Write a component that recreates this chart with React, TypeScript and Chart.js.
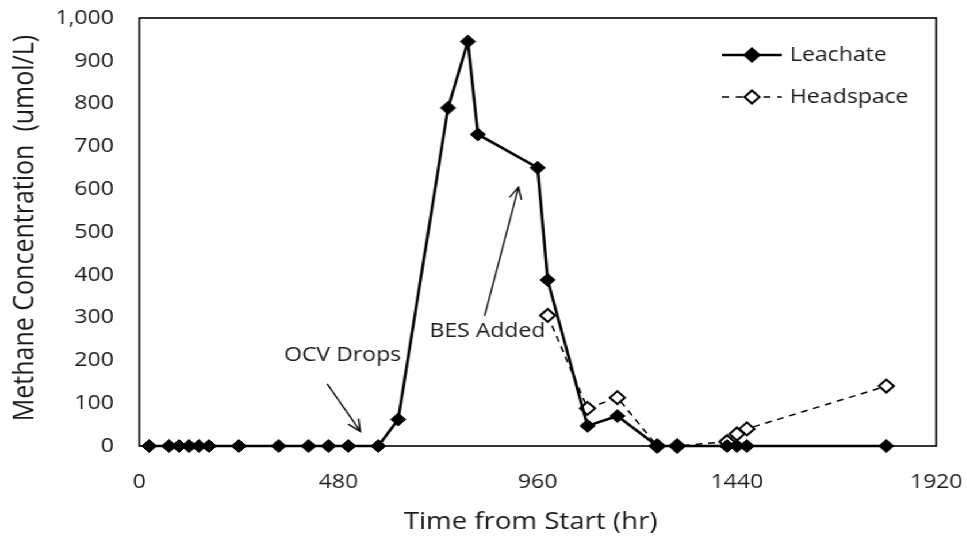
import { useEffect, useRef } from "react";
import { Chart, registerables } from "chart.js";

Chart.register(...registerables);

// ---- data (hours from start, methane umol/L) ----
const leachateHours = [24, 72, 96, 120, 144, 168, 240, 336, 408, 456, 504, 576, 624, 744, 792, 816, 960, 984, 1080, 1152, 1248, 1296, 1416, 1440, 1464, 1800];
const leachateValues = [0, 0, 0, 0, 0, 0, 0, 0, 0, 0, 0, 0, 62, 790, 945, 728, 650, 388, 47, 70, 0, 0, 0, 0, 0, 0];
const headspaceHours = [984, 1080, 1152, 1248, 1296, 1416, 1440, 1464, 1800];
const headspaceValues = [305, 88, 113, 0, 0, 10, 28, 40, 140];

const xMin = 0;
const xMax = 1920;
const xStep = 480;
const yMin = 0;
const yMax = 1000;
const yStep = 100;

const seriesNames = ["Leachate", "Headspace"];
const xTitle = "Time from Start (hr)";
const yTitle = "Methane Concentration  (umol/L)";

// annotations in data coordinates
const annotationTexts = ["OCV Drops", "BES Added"];
const annotationTextAt = [[490, 211], [839, 269]];
const annotationArrowFrom = [[453, 145], [832, 304]];
const annotationArrowTo = [[533, 34], [914, 605]];

// ---- layout ----
const S = 1.15; // horizontal stretch of the reference picture
const W = 967 / S;
const H = 537;
const FONT = "'Open Sans', 'DejaVu Sans', sans-serif";
const TEXT = "#1a1a1a";

function drawDiamond(ctx: CanvasRenderingContext2D, x: number, y: number, r: number, filled: boolean) {
  ctx.beginPath();
  ctx.moveTo(x, y - r);
  ctx.lineTo(x + r, y);
  ctx.lineTo(x, y + r);
  ctx.lineTo(x - r, y);
  ctx.closePath();
  ctx.fillStyle = filled ? "#000" : "#fff";
  ctx.fill();
  ctx.lineWidth = 2;
  ctx.strokeStyle = "#000";
  ctx.stroke();
}

const zeroPad = (s: any) => {
  s.paddingLeft = 0;
  s.paddingRight = 0;
  s.paddingTop = 0;
  s.paddingBottom = 0;
};

const decorPlugin = {
  id: "decor",
  beforeDatasetsDraw(chart: any) {
    const { ctx, chartArea: ca } = chart;
    ctx.save();
    ctx.strokeStyle = "#000";
    ctx.lineWidth = 1.6;
    ctx.strokeRect(ca.left, ca.top, ca.right - ca.left, ca.bottom - ca.top);
    ctx.restore();
  },
  afterDraw(chart: any) {
    const { ctx, chartArea: ca } = chart;
    const xs = chart.scales.x;
    const ys = chart.scales.y;
    ctx.save();

    // axis titles
    ctx.fillStyle = TEXT;
    ctx.textAlign = "center";
    ctx.textBaseline = "middle";
    ctx.font = `24px ${FONT}`;
    ctx.fillText(xTitle, 530 / S, 522);
    ctx.save();
    ctx.translate(25 / S, 228);
    ctx.rotate(-Math.PI / 2);
    ctx.font = `25px ${FONT}`;
    ctx.fillText(yTitle, 0, 0);
    ctx.restore();

    // legend
    const lx0 = ca.right - 186;
    const lx1 = ca.right - 134;
    const lxm = (lx0 + lx1) / 2;
    const ltx = ca.right - 127;
    const rows = [55, 97];
    ctx.font = `20px ${FONT}`;
    ctx.textAlign = "left";
    // Leachate
    ctx.strokeStyle = "#000";
    ctx.lineWidth = 2.5;
    ctx.beginPath();
    ctx.moveTo(lx0, rows[0]);
    ctx.lineTo(lx1, rows[0]);
    ctx.stroke();
    drawDiamond(ctx, lxm, rows[0], 6.5, true);
    ctx.fillStyle = TEXT;
    ctx.fillText(seriesNames[0], ltx, rows[0]);
    // Headspace
    ctx.lineWidth = 1.5;
    ctx.setLineDash([6, 6]);
    ctx.beginPath();
    ctx.moveTo(lx0, rows[1]);
    ctx.lineTo(lx1, rows[1]);
    ctx.stroke();
    ctx.setLineDash([]);
    drawDiamond(ctx, lxm, rows[1], 6.5, false);
    ctx.fillStyle = TEXT;
    ctx.fillText(seriesNames[1], ltx, rows[1]);

    // annotations
    ctx.textAlign = "center";
    for (let i = 0; i < annotationTexts.length; i++) {
      const tx = xs.getPixelForValue(annotationTextAt[i][0]);
      const ty = ys.getPixelForValue(annotationTextAt[i][1]);
      ctx.fillStyle = TEXT;
      ctx.fillText(annotationTexts[i], tx, ty);
      const ax0 = xs.getPixelForValue(annotationArrowFrom[i][0]);
      const ay0 = ys.getPixelForValue(annotationArrowFrom[i][1]);
      const ax1 = xs.getPixelForValue(annotationArrowTo[i][0]);
      const ay1 = ys.getPixelForValue(annotationArrowTo[i][1]);
      ctx.strokeStyle = "#111";
      ctx.lineWidth = 1.4;
      ctx.beginPath();
      ctx.moveTo(ax0, ay0);
      ctx.lineTo(ax1, ay1);
      const ang = Math.atan2(ay1 - ay0, ax1 - ax0);
      const hl = 13;
      const ha = 0.42;
      ctx.moveTo(ax1 - hl * Math.cos(ang - ha), ay1 - hl * Math.sin(ang - ha));
      ctx.lineTo(ax1, ay1);
      ctx.lineTo(ax1 - hl * Math.cos(ang + ha), ay1 - hl * Math.sin(ang + ha));
      ctx.stroke();
    }
    ctx.restore();
  },
};

export default function App() {
  const canvasRef = useRef<HTMLCanvasElement | null>(null);

  useEffect(() => {
    if (!canvasRef.current) return;
    const leachate = leachateHours.map((h, i) => ({ x: h, y: leachateValues[i] }));
    const headspace = headspaceHours.map((h, i) => ({ x: h, y: headspaceValues[i] }));
    const chart = new Chart(canvasRef.current, {
      type: "line",
      data: {
        datasets: [
          {
            label: seriesNames[0],
            data: leachate,
            borderColor: "#000",
            backgroundColor: "#000",
            borderWidth: 2.5,
            pointStyle: "rectRot",
            pointRadius: 6.5,
            pointBorderWidth: 1,
            pointBackgroundColor: "#000",
            pointBorderColor: "#000",
            tension: 0,
            clip: false,
          } as any,
          {
            label: seriesNames[1],
            data: headspace,
            borderColor: "#000",
            backgroundColor: "#fff",
            borderWidth: 1.5,
            borderDash: [6, 5],
            pointStyle: "rectRot",
            pointRadius: 6.5,
            pointBorderWidth: 2,
            pointBackgroundColor: "#fff",
            pointBorderColor: "#000",
            tension: 0,
            clip: false,
          } as any,
        ],
      },
      options: {
        animation: false,
        responsive: true,
        maintainAspectRatio: false,
        layout: { padding: { top: 18, right: W - 935 / S, left: 0, bottom: 0 } },
        plugins: { legend: { display: false }, tooltip: { enabled: false } },
        scales: {
          x: {
            type: "linear",
            min: xMin,
            max: xMax,
            grid: { display: false, drawTicks: false },
            border: { display: false },
            afterFit: (s: any) => { s.height = H - 446; zeroPad(s); },
            ticks: {
              stepSize: xStep,
              padding: 24,
              color: TEXT,
              font: { family: FONT, size: 20 },
              maxRotation: 0,
              callback: (v: any) => String(v),
            },
          },
          y: {
            type: "linear",
            min: yMin,
            max: yMax,
            grid: { display: false, drawTicks: false },
            border: { display: false },
            afterFit: (s: any) => { s.width = 139 / S; zeroPad(s); },
            ticks: {
              stepSize: yStep,
              padding: 22,
              color: TEXT,
              font: { family: FONT, size: 20 },
              callback: (v: any) => Number(v).toLocaleString("en-US"),
            },
          },
        },
      },
      plugins: [decorPlugin],
    });
    return () => chart.destroy();
  }, []);

  return (
    <div
      style={{
        position: "fixed",
        left: 0,
        top: 0,
        width: `${W}px`,
        height: `${H}px`,
        transform: `scaleX(${S})`,
        transformOrigin: "0 0",
        background: "#fff",
      }}
    >
      <canvas ref={canvasRef} />
    </div>
  );
}
